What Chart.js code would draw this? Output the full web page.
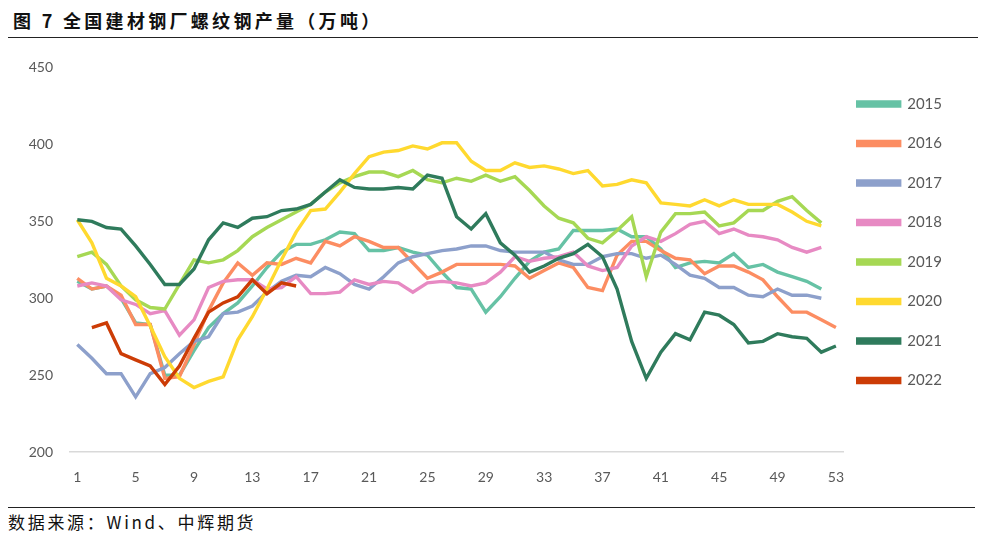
<!DOCTYPE html>
<html>
<head>
<meta charset="utf-8">
<script src="https://cdn.jsdelivr.net/npm/chart.js@4/dist/chart.umd.min.js"></script>
<style>
  body { margin: 0; background: #fff; width: 993px; height: 541px; position: relative; overflow: hidden; }
  #title { position: absolute; left: 13px; top: 7px; font: bold 18px "Noto Sans CJK SC", sans-serif; letter-spacing: 3.3px; color: #111; white-space: pre; }
  #topline { position: absolute; left: 8px; top: 37px; width: 970px; height: 0; border-top: 1.5px solid #222; }
  #wrap { position: absolute; left: 0; top: 42px; width: 993px; height: 461px; }
  #botline { position: absolute; left: 8px; top: 507px; width: 967px; height: 0; border-top: 1.5px solid #222; }
  #source { position: absolute; left: 8px; top: 509px; font: 17px "Noto Sans CJK SC", sans-serif; letter-spacing: 2.7px; color: #111; }
</style>
</head>
<body>
<div id="title">图 7 全国建材钢厂螺纹钢产量（万吨）</div>
<div id="topline"></div>
<div id="wrap"><canvas id="chart"></canvas></div>
<div id="botline"></div>
<div id="source">数据来源：Wind、中辉期货</div>
<script>
// 周数 1..53
const weeks = Array.from({ length: 53 }, (_, i) => i + 1);
const shownTicks = [1, 5, 9, 13, 17, 21, 25, 29, 33, 37, 41, 45, 49, 53];

const y2015 = [311, 306, 308, 300, 284, 283, 250, 250, 266, 281, 290, 297, 308, 320, 330, 335, 335,
  338, 343, 342, 331, 331, 333, 330, 328, 317, 307, 306, 291, 301, 313, 324, 330, 332,
  344, 344, 344, 345, 340, 340, 332, 320, 323, 324, 323, 329, 320, 322, 317, 314, 311, 306];
const y2016 = [313, 306, 308, 302, 283, 283, 248, 249, 270, 292, 310, 323, 315, 323, 322, 326, 323,
  337, 334, 340, 337, 333, 333, 323, 313, 317, 322, 322, 322, 322, 321, 313, 318, 323,
  320, 307, 305, 328, 337, 337, 331, 326, 325, 316, 321, 321, 317, 312, 301, 291, 291, 286, 281];
const y2017 = [270, 261, 251, 251, 236, 251, 255, 264, 272, 275, 290, 291, 295, 304, 311, 315, 314,
  320, 316, 309, 306, 314, 323, 327, 329, 331, 332, 334, 334, 331, 330, 330, 330, 325,
  322, 322, 327, 329, 329, 326, 328, 322, 315, 313, 307, 307, 302, 301, 306, 302, 302, 300];
const y2018 = [308, 310, 308, 299, 296, 290, 292, 276, 286, 307, 311, 312, 312, 306, 307, 314, 303,
  303, 304, 312, 309, 311, 310, 304, 310, 311, 310, 308, 310, 317, 327, 324, 326, 327,
  330, 321, 318, 320, 334, 340, 337, 342, 348, 350, 342, 345, 341, 340, 338, 333, 330, 333];
const y2019 = [327, 330, 322, 308, 299, 294, 293, 309, 325, 323, 325, 331, 340, 346, 351, 356, 361,
  369, 375, 379, 382, 382, 379, 383, 377, 375, 378, 376, 380, 376, 379, 370, 360, 352,
  349, 339, 336, 344, 353, 314, 343, 355, 355, 356, 347, 349, 357, 357, 363, 366, 357, 349];
const y2020 = [351, 336, 313, 308, 301, 282, 262, 248, 242, 246, 249, 273, 288, 306, 325, 343, 357,
  358, 369, 381, 392, 395, 396, 399, 397, 401, 401, 389, 383, 383, 388, 385, 386, 384,
  381, 383, 373, 374, 377, 375, 362, 361, 360, 364, 360, 364, 361, 361, 361, 356, 350, 347];
const y2021 = [351, 350, 346, 345, 334, 322, 309, 309, 319, 338, 349, 346, 352, 353, 357, 358, 361,
  369, 377, 372, 371, 371, 372, 371, 380, 378, 353, 345, 355, 336, 328, 317, 321, 326,
  329, 335, 327, 306, 272, 248, 265, 277, 273, 291, 289, 283, 271, 272, 277, 275, 274, 265, 269];
const y2022 = [null, 281, 284, 264, 260, 256, 244, 256, 274, 291, 297, 301, 312, 303, 310, 308];

const years = ["2015", "2016", "2017", "2018", "2019", "2020", "2021", "2022"];
const seriesList = [y2015, y2016, y2017, y2018, y2019, y2020, y2021, y2022];
const colors = ["#66c2a5", "#fc8d62", "#8da0cb", "#e78ac3", "#a6d854", "#ffd92f", "#2f7b5c", "#cc3c06"];

const datasets = years.map((yr, i) => ({
  label: yr,
  data: seriesList[i],
  borderColor: colors[i],
  backgroundColor: colors[i],
  borderWidth: 3.4,
  pointRadius: 0,
  tension: 0,
  order: years.length - i, // 后面的年份画在上面
}));

// 图例位置微调（靠近绘图区、往下一点）
const legendShift = {
  id: "legendShift",
  beforeDraw(chart) {
    const lg = chart.legend;
    lg.left -= 10;
    lg.right -= 10;
    lg.top += 23;
    lg.bottom += 23;
  },
};

const ctx = document.getElementById("chart").getContext("2d");
new Chart(ctx, {
  type: "line",
  data: { labels: weeks, datasets: datasets },
  plugins: [legendShift],
  options: {
    responsive: true,
    maintainAspectRatio: false,
    animation: false,
    layout: { padding: { left: 0, right: 31, top: 7, bottom: 0 } },
    scales: {
      x: {
        offset: true,
        grid: { display: false, drawTicks: false },
        border: { color: "#d9d9d9", width: 1.5 },
        ticks: {
          autoSkip: false,
          maxRotation: 0,
          padding: 17,
          color: "#595959",
          font: { family: "Lato", size: 14 },
          callback: function (val, idx) {
            const w = weeks[idx];
            return shownTicks.includes(w) ? String(w) : "";
          },
        },
      },
      y: {
        min: 200,
        max: 450,
        grid: { display: false, drawTicks: false },
        border: { display: false },
        ticks: {
          stepSize: 50,
          padding: 17,
          color: "#595959",
          font: { family: "Lato", size: 14 },
        },
        afterFit: function (scale) { scale.width = 70; },
      },
    },
    plugins: {
      legend: {
        position: "right",
        align: "start",
        labels: {
          boxWidth: 42,
          boxHeight: 4,
          padding: 24.5,
          color: "#595959",
          font: { family: "Lato", size: 15 },
          sort: (a, b) => a.datasetIndex - b.datasetIndex,
        },
      },
      tooltip: { enabled: false },
    },
  },
});
</script>
</body>
</html>
